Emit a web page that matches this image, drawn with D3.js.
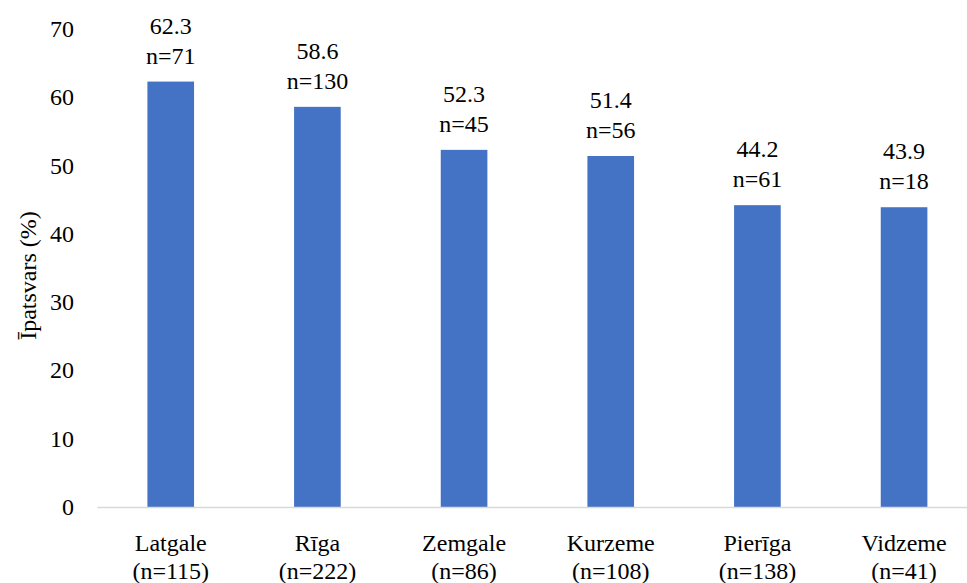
<!DOCTYPE html>
<html>
<head>
<meta charset="utf-8">
<script src="https://cdn.jsdelivr.net/npm/d3@7"></script>
</head>
<body style="margin:0">
<svg id="chart" width="967" height="583" style="display:block" font-family="Liberation Serif"></svg>
<script>
const categories = ["Latgale", "Rīga", "Zemgale", "Kurzeme", "Pierīga", "Vidzeme"];
const categoryN = [115, 222, 86, 108, 138, 41];
const values = [62.3, 58.6, 52.3, 51.4, 44.2, 43.9];
const valueN = [71, 130, 45, 56, 61, 18];
const yTicks = [0, 10, 20, 30, 40, 50, 60, 70];
const yTitle = "Īpatsvars (%)";

const svg = d3.select("#chart");
const W = 967, H = 583;

const x = d3.scaleBand()
  .domain(categories)
  .range([97.4, 977.4])
  .paddingInner(0.682)
  .paddingOuter(0.341);

const y = d3.scaleLinear().domain([0, 70]).range([507, 29]);

function txt(sel) {
  return sel.attr("font-family", "Liberation Serif")
    .attr("font-size", 24)
    .attr("fill", "#000");
}

// y tick labels
svg.append("g").selectAll("text")
  .data(yTicks)
  .join("text")
  .attr("x", 74)
  .attr("y", d => y(d) + 8)
  .attr("text-anchor", "end")
  .call(txt)
  .text(d => d);

// y title
svg.append("text")
  .attr("transform", `translate(36, ${y(33.9)}) rotate(-90)`)
  .attr("text-anchor", "middle")
  .call(txt)
  .text(yTitle);

// bars
svg.append("g").selectAll("rect")
  .data(categories)
  .join("rect")
  .attr("x", d => x(d))
  .attr("width", x.bandwidth())
  .attr("y", (d, i) => y(values[i]))
  .attr("height", (d, i) => y(0) - y(values[i]))
  .attr("fill", "#4472C4");

// x axis line
svg.append("line")
  .attr("x1", 97.4).attr("x2", W)
  .attr("y1", y(0) + 0.5).attr("y2", y(0) + 0.5)
  .attr("stroke", "#d9d9d9")
  .attr("stroke-width", 1.5);

// value labels
const vl = svg.append("g").selectAll("g")
  .data(categories)
  .join("g")
  .attr("transform", (d, i) => `translate(${x(d) + x.bandwidth() / 2}, ${y(values[i])})`);
vl.append("text")
  .attr("y", -48)
  .attr("text-anchor", "middle")
  .call(txt)
  .text((d, i) => values[i].toFixed(1));
vl.append("text")
  .attr("y", -18)
  .attr("text-anchor", "middle")
  .call(txt)
  .text((d, i) => "n=" + valueN[i]);

// category labels
const cl = svg.append("g").selectAll("g")
  .data(categories)
  .join("g")
  .attr("transform", d => `translate(${x(d) + x.bandwidth() / 2}, 0)`);
cl.append("text")
  .attr("y", 551)
  .attr("text-anchor", "middle")
  .call(txt)
  .text(d => d);
cl.append("text")
  .attr("y", 579)
  .attr("text-anchor", "middle")
  .call(txt)
  .text((d, i) => "(n=" + categoryN[i] + ")");
</script>
</body>
</html>
